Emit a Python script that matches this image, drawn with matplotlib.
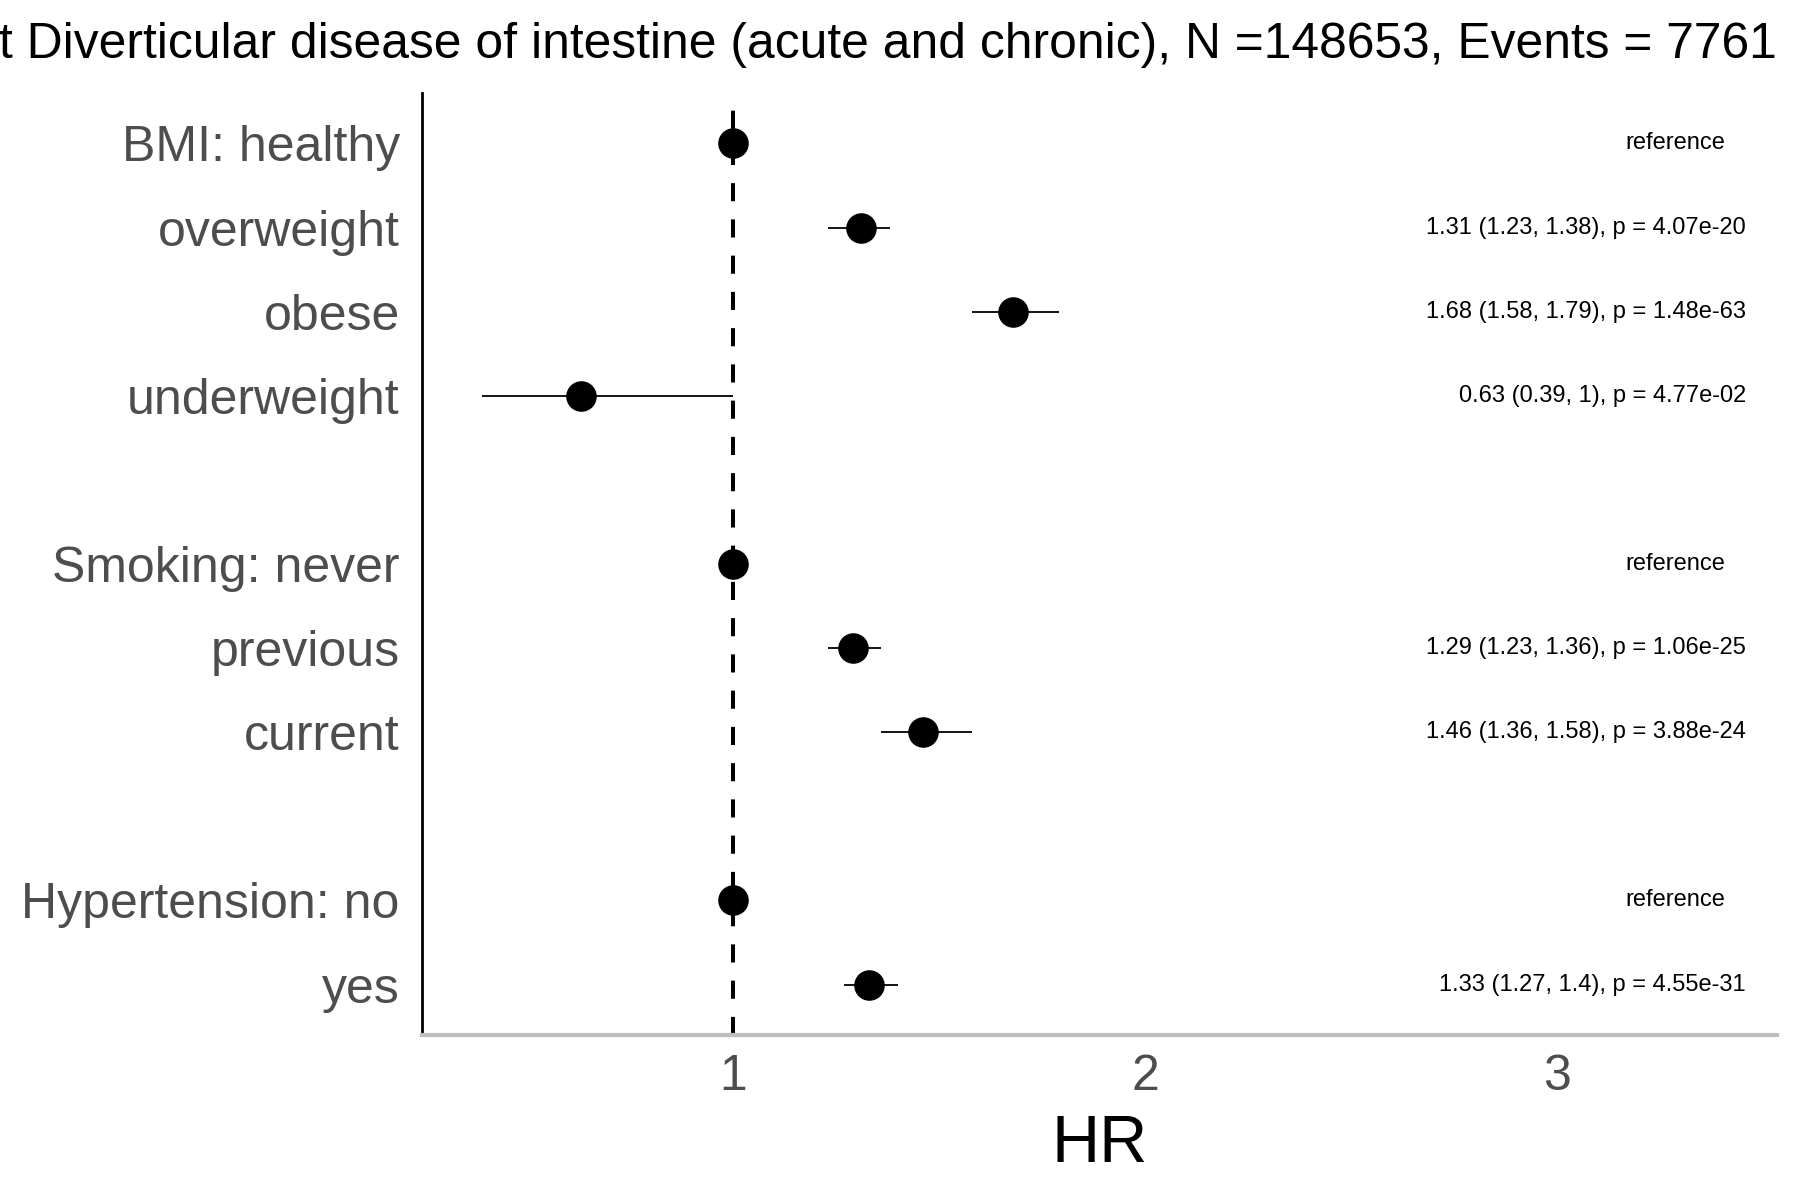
import numpy as np
import matplotlib
matplotlib.use("Agg")
import matplotlib.pyplot as plt

plt.rcParams['font.family'] = ['Liberation Sans', 'DejaVu Sans']

# ---- data ----
row_labels = ["BMI: healthy", "overweight", "obese", "underweight", "",
              "Smoking: never", "previous", "current", "",
              "Hypertension: no", "yes"]
hr    = [1.00, 1.31, 1.68, 0.63, np.nan, 1.00, 1.29, 1.46, np.nan, 1.00, 1.33]
lower = [np.nan, 1.23, 1.58, 0.39, np.nan, np.nan, 1.23, 1.36, np.nan, np.nan, 1.27]
upper = [np.nan, 1.38, 1.79, 1.00, np.nan, np.nan, 1.36, 1.58, np.nan, np.nan, 1.40]
annot = ["reference", "1.31 (1.23, 1.38), p = 4.07e-20", "1.68 (1.58, 1.79), p = 1.48e-63",
         "0.63 (0.39, 1), p = 4.77e-02", "",
         "reference", "1.29 (1.23, 1.36), p = 1.06e-25", "1.46 (1.36, 1.58), p = 3.88e-24", "",
         "reference", "1.33 (1.27, 1.4), p = 4.55e-31"]
x_ticks = [1, 2, 3]
title = "t Diverticular disease of intestine (acute and chronic), N =148653, Events = 7761"
x_label = "HR"

# ---- figure ----
W, H = 1800, 1200
fig = plt.figure(figsize=(18, 12), dpi=100)
L, R, T, B = 422, 1777, 93, 1035
ax = fig.add_axes([L / W, 1 - B / H, (R - L) / W, (B - T) / H])

y = np.arange(len(row_labels))
ax.axvline(1, color='black', lw=2.9, ls=(0, (4.5, 4.5)), zorder=1)
ax.hlines(y, lower, upper, color='black', lw=1.3, zorder=2)
ax.plot(hr, y, 'o', ms=21, color='black', zorder=3, linestyle='none')

for yi, txt in zip(y, annot):
    if not txt:
        continue
    if txt == "reference":
        ax.text(3.286, yi, txt, ha='center', va='center', fontsize=17, color='black')
    else:
        ax.text(3.459, yi, txt, ha='right', va='center', fontsize=17, color='black')

ax.set_xlim(0.245, 3.534)
ax.set_ylim(10.6, -0.6)

ticks_pos = [i for i, l in enumerate(row_labels) if l]
ax.set_yticks(ticks_pos)
ax.set_yticklabels([row_labels[i] for i in ticks_pos])
ax.set_xticks(x_ticks)
ax.set_xticklabels([str(t) for t in x_ticks])
ax.tick_params(axis='y', length=0, pad=16, labelsize=36, labelcolor='#4D4D4D')
ax.tick_params(axis='x', length=0, pad=14, labelsize=36, labelcolor='#4D4D4D')

for s in ['top', 'right']:
    ax.spines[s].set_visible(False)
ax.spines['left'].set_color('black')
ax.spines['left'].set_linewidth(2.0)
ax.spines['bottom'].set_color('#BEBEBE')
ax.spines['bottom'].set_linewidth(3.0)

fig.text((L + R) / 2 / W, 1 - 1162 / H, x_label, ha='center', va='baseline', fontsize=48, color='black')
fig.text(R / W, 1 - 58 / H, title, ha='right', va='baseline', fontsize=35.8, color='black')

fig.savefig("out.png", dpi=100, facecolor='white')
